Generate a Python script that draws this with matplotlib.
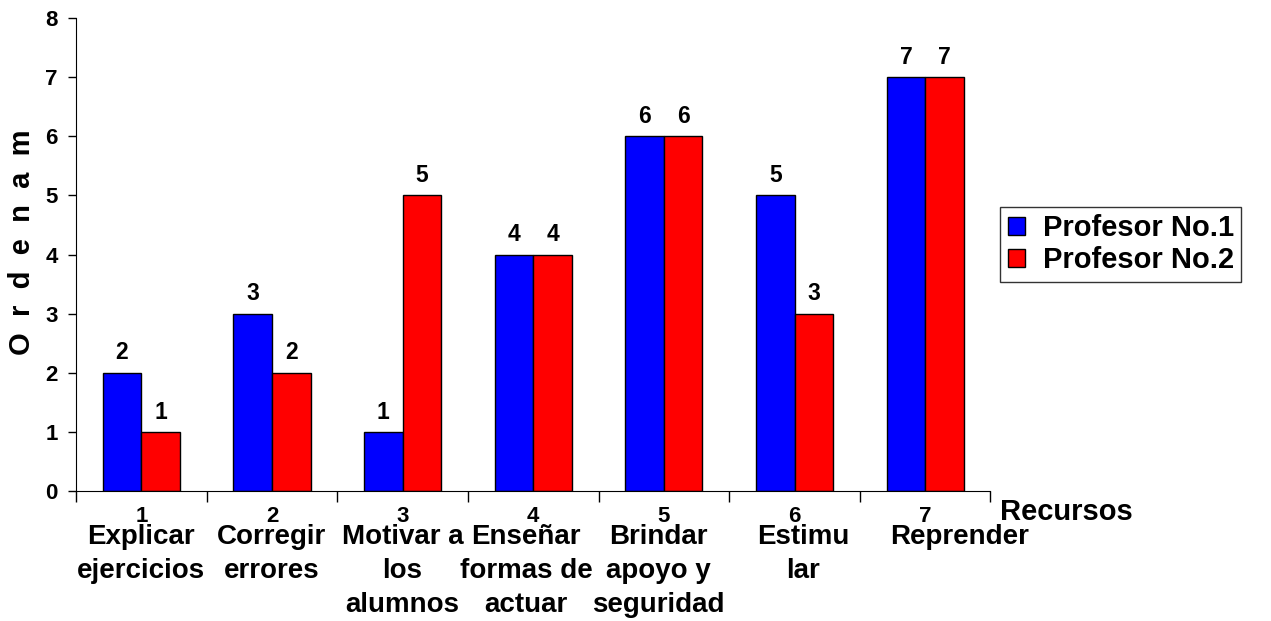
import matplotlib.pyplot as plt
import numpy as np

plt.rcParams['font.family'] = ['Liberation Sans', 'DejaVu Sans']
plt.rcParams['font.weight'] = 'bold'

recursos = ['1', '2', '3', '4', '5', '6', '7']
nombres = ['Explicar\nejercicios', 'Corregir\nerrores', 'Motivar a\nlos\nalumnos',
           'Enseñar\nformas de\nactuar', 'Brindar\napoyo y\nseguridad', 'Estimu\nlar', 'Reprender']
profesor1 = [2, 3, 1, 4, 6, 5, 7]
profesor2 = [1, 2, 5, 4, 6, 3, 7]

# small horizontal shifts (points) of the category names, as in the original
shift = [0, 0, 0, -5, -4, 6, 25]

x = np.arange(len(recursos))
w = 0.295

fig = plt.figure(figsize=(12.71, 6.21), dpi=100)
ax = fig.add_axes([0.0598, 0.2093, 0.7195, 0.7617])

b1 = ax.bar(x - w/2, profesor1, w, color='#0000FF', edgecolor='black', linewidth=1, label='Profesor No.1')
b2 = ax.bar(x + w/2, profesor2, w, color='#FF0000', edgecolor='black', linewidth=1, label='Profesor No.2')

for bars, vals in [(b1, profesor1), (b2, profesor2)]:
    for r, v in zip(bars, vals):
        ax.annotate(str(v), (r.get_x() + r.get_width()/2, v), xytext=(0, 6),
                    textcoords='offset points', ha='center', va='bottom',
                    fontsize=16.5, fontweight='bold')

ax.set_xlim(-0.5, len(recursos) - 0.5)
ax.set_ylim(0, 8)
ax.set_yticks(range(9))
ax.tick_params(axis='y', labelsize=16, length=6, width=1, pad=7)

# boundaries as major ticks, numbers as minor labels
ax.set_xticks(np.arange(-0.5, len(recursos)))
ax.set_xticklabels([])
ax.tick_params(axis='x', which='major', length=8, width=1)
ax.set_xticks(x, minor=True)
ax.set_xticklabels(recursos, minor=True, fontsize=16, fontweight='bold')
ax.tick_params(axis='x', which='minor', length=0, pad=11)

for s in ['top', 'right']:
    ax.spines[s].set_visible(False)

for i, n in enumerate(nombres):
    ax.annotate(n, (i, 0), xycoords=('data', 'axes fraction'), xytext=(shift[i], -24),
                textcoords='offset points', ha='center', va='top', fontsize=20,
                fontweight='bold', linespacing=1.38)

ax.text(1.01, -0.015, 'Recursos', transform=ax.transAxes, ha='left', va='top',
        fontsize=21, fontweight='bold')

ax.text(-0.059, 0.526, 'O  r  d  e  n  a  m', transform=ax.transAxes, rotation=90,
        ha='center', va='center', fontsize=21, fontweight='bold')

leg = ax.legend(loc='upper left', bbox_to_anchor=(0.787, 0.667), bbox_transform=fig.transFigure,
                fontsize=21, frameon=True, fancybox=False, handlelength=0.6, handleheight=0.6,
                borderaxespad=0, labelspacing=0.15, handletextpad=0.6, borderpad=0.25)
leg.get_frame().set_edgecolor('black')
leg.get_frame().set_linewidth(1)
for t in leg.get_texts():
    t.set_fontweight('bold')

fig.savefig('out.png', dpi=100)
